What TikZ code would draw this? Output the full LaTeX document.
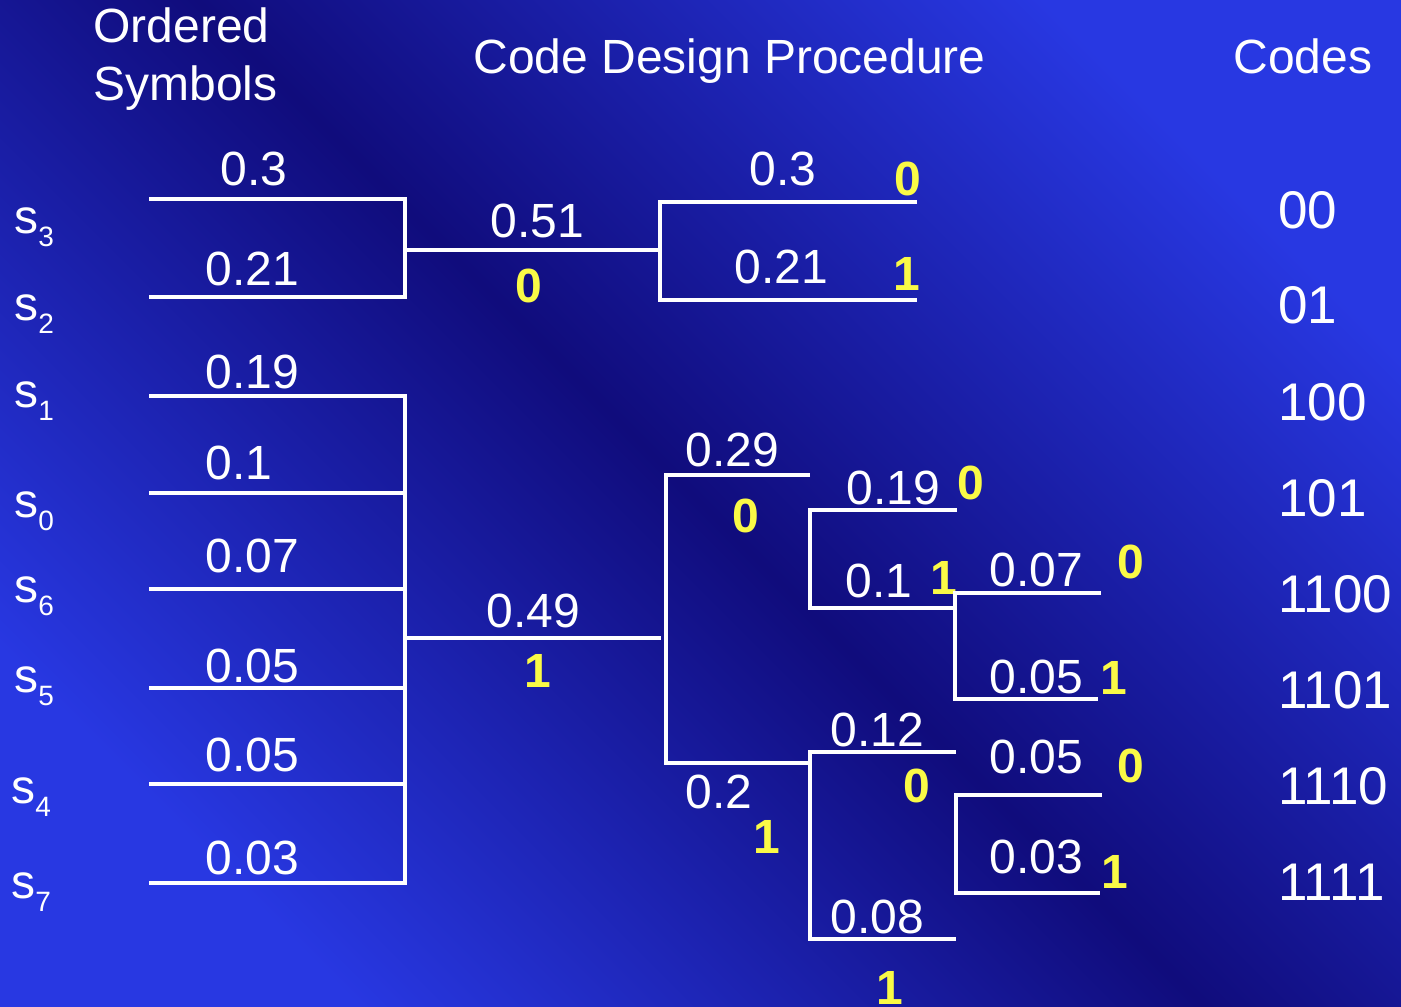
\documentclass[tikz,border=0pt]{standalone}
\usepackage{fontspec}
\setmainfont{Liberation Sans}
\definecolor{bgbright}{RGB}{40,56,226}
\definecolor{bgdark}{RGB}{16,12,124}
\definecolor{bityellow}{RGB}{250,250,70}
\pgfdeclareverticalshading{slidebg}{100bp}{color(0bp)=(bgbright); color(25bp)=(bgbright); color(50bp)=(bgdark); color(75bp)=(bgbright); color(100bp)=(bgbright)}
\newcommand\symb[1]{s\raisebox{-6.5pt}{\fontsize{14}{14}\selectfont #1}}
\begin{document}
\begin{tikzpicture}[x=0.5pt,y=-0.5pt,
  wire/.style={draw=white, line width=1.6pt, line join=miter},
  txt/.style={text=white, font=\fontsize{24}{28}\selectfont, inner sep=0pt, anchor=base west},
  bit/.style={text=bityellow, font=\bfseries\fontsize{24}{28}\selectfont, inner sep=0pt, anchor=base},
  codeword/.style={text=white, font=\fontsize{26.5}{30}\selectfont, inner sep=0pt, anchor=base west},
]
% slide background
\shade[shading=slidebg, shading angle=-45] (0,0) rectangle (1401,1006);
\useasboundingbox (0,0) rectangle (1401,1006);

% column headings
\node[txt] (hOrd) at (93,43) {Ordered};
\node[txt] (hSym) at (93,100) {Symbols};
\node[txt] (hProc) at (473,74) {Code Design Procedure};
\node[txt] (hCodes) at (1233,74) {Codes};

% ordered symbols
\node[txt] (s3) at (14,233) {\symb{3}};
\node[txt] (s2) at (14,320) {\symb{2}};
\node[txt] (s1) at (14,407) {\symb{1}};
\node[txt] (s0) at (14,517) {\symb{0}};
\node[txt] (s6) at (14,602) {\symb{6}};
\node[txt] (s5) at (14,692) {\symb{5}};
\node[txt] (s4) at (11,803) {\symb{4}};
\node[txt] (s7) at (11,898) {\symb{7}};

% leaf probabilities
\node[txt] (p3) at (220,185) {0.3};
\node[txt] (p2) at (205,285) {0.21};
\node[txt] (p1) at (205,388) {0.19};
\node[txt] (p0) at (205,479) {0.1};
\node[txt] (p6) at (205,572) {0.07};
\node[txt] (p5) at (205,682) {0.05};
\node[txt] (p4) at (205,771) {0.05};
\node[txt] (p7) at (205,874) {0.03};

% first split
\draw[wire] (149,199) -- (405,199) -- (405,297) -- (149,297);
\draw[wire] (405,250) coordinate (jA) -- (660,250) coordinate (jA2);
\draw[wire] (149,396) -- (405,396) -- (405,883) -- (149,883);
\foreach \yy in {493,589,688,784} \draw[wire] (149,\yy) -- (405,\yy);
\draw[wire] (405,638) coordinate (jB) -- (661,638) coordinate (jB2);
\node[txt] (q51) at (490,237) {0.51};
\node[bit] (b51) at (529,302) {0};
\node[txt] (q49) at (486,627) {0.49};
\node[bit] (b49) at (538,687) {1};

% upper branch
\draw[wire] (917,202) -- (660,202) -- (660,300) -- (917,300);
\node[txt] (u3) at (749,185) {0.3};
\node[bit] (ub3) at (908,195) {0};
\node[txt] (u2) at (734,283) {0.21};
\node[bit] (ub2) at (907,290) {1};

% lower branch
\draw[wire] (810,475) -- (666,475) -- (666,763) -- (810,763);
\node[txt] (v29) at (685,466) {0.29};
\node[bit] (vb29) at (746,532) {0};
\node[txt] (v2) at (685,808) {0.2};
\node[bit] (vb2) at (767,853) {1};

% 0.29 split
\draw[wire] (957,510) -- (810,510) -- (810,608) -- (955,608);
\node[txt] (w19) at (846,504) {0.19};
\node[bit] (wb19) at (971,499) {0};
\node[txt] (w1) at (845,597) {0.1};
\node[bit] (wb1) at (944,594) {1};

% 0.1 split
\draw[wire] (1101,593) -- (955,593) -- (955,699) -- (1098,699);
\node[txt] (x07) at (989,586) {0.07};
\node[bit] (xb07) at (1131,578) {0};
\node[txt] (x05) at (989,693) {0.05};
\node[bit] (xb05) at (1114,694) {1};

% 0.2 split
\draw[wire] (956,752) -- (810,752) -- (810,939) -- (956,939);
\node[txt] (w12) at (830,746) {0.12};
\node[bit] (wb12) at (917,802) {0};
\node[txt] (w08) at (830,933) {0.08};
\node[bit] (wb08) at (890,1004) {1};

% 0.12 split
\draw[wire] (1102,795) -- (956,795) -- (956,893) -- (1100,893);
\node[txt] (y05) at (989,773) {0.05};
\node[bit] (yb05) at (1131,782) {0};
\node[txt] (y03) at (989,873) {0.03};
\node[bit] (yb03) at (1115,888) {1};

% resulting code words
\node[codeword] (c3) at (1278,228) {00};
\node[codeword] (c2) at (1278,323) {01};
\node[codeword] (c1) at (1278,420) {100};
\node[codeword] (c0) at (1278,516) {101};
\node[codeword] (c6) at (1278,612) {1100};
\node[codeword] (c5) at (1278,708) {1101};
\node[codeword] (c4) at (1278,804) {1110};
\node[codeword] (c7) at (1278,900) {1111};
\end{tikzpicture}
\end{document}
